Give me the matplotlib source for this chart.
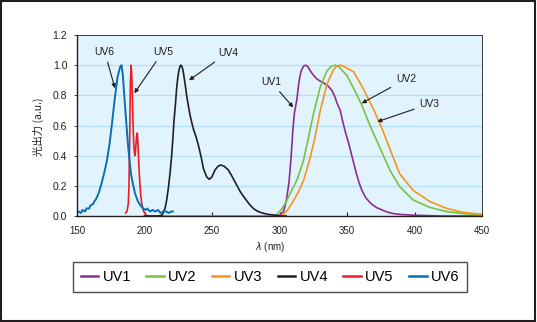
import matplotlib
matplotlib.use("Agg")
import matplotlib.pyplot as plt
from matplotlib.patches import Rectangle

plt.rcParams['font.family'] = ['Liberation Sans Narrow', 'Liberation Sans', 'DejaVu Sans']

# ---- data ----
uv1_x = [295, 300, 303, 305, 307, 308.5, 310, 311, 312, 313, 314, 315, 316, 317, 318, 319.5, 321, 323, 325,
         327.5, 330, 333, 336, 339, 341, 343, 345, 347, 349, 351, 353, 355, 357, 359, 361, 364, 368, 372,
         376, 380, 385, 390, 400, 420, 450]
uv1_y = [0, 0.005, 0.03, 0.1, 0.22, 0.38, 0.58, 0.68, 0.73, 0.78, 0.86, 0.92, 0.96, 0.98, 0.995, 1.0, 0.99,
         0.96, 0.935, 0.91, 0.895, 0.88, 0.862, 0.83, 0.79, 0.74, 0.70, 0.62, 0.55, 0.49, 0.42, 0.35, 0.28,
         0.22, 0.17, 0.12, 0.08, 0.055, 0.04, 0.025, 0.015, 0.01, 0.005, 0.0, 0.0]

uv2_x = [200, 250, 290, 296, 298, 302, 305, 309, 313, 317.5, 321, 325, 330, 335, 338, 341, 344, 347, 350,
         355, 361, 367, 374, 382, 389, 399, 411, 424, 436, 450]
uv2_y = [0, 0, 0, 0.0, 0.01, 0.05, 0.095, 0.17, 0.24, 0.36, 0.50, 0.67, 0.85, 0.96, 0.99, 1.0, 0.99, 0.96,
         0.93, 0.845, 0.735, 0.60, 0.46, 0.30, 0.195, 0.106, 0.058, 0.029, 0.016, 0.008]

uv3_x = [200, 250, 295, 300, 303, 306, 310, 314, 318, 322.5, 326, 330, 335, 340, 342.5, 345, 348, 351, 355,
         362, 369.5, 375, 382, 389, 399, 411.5, 424, 436, 448, 452]
uv3_y = [0, 0, 0, 0.0, 0.01, 0.04, 0.095, 0.16, 0.24, 0.38, 0.51, 0.69, 0.87, 0.97, 0.995, 1.0, 0.99, 0.975,
         0.955, 0.845, 0.71, 0.60, 0.44, 0.28, 0.17, 0.095, 0.05, 0.024, 0.013, 0.01]

uv4_x = [200, 205, 210, 213, 215.2, 216.5, 217.6, 219, 220.1, 221, 221.8, 223, 223.8, 224.7, 225.6, 226.4,
         227, 227.8, 228.7, 230, 231.2, 232.5, 233.7, 235, 236.1, 238, 239.9, 242, 243.6, 246, 248, 250,
         252.2, 254.5, 256.4, 259, 262.1, 265, 268.3, 271, 274.4, 277.5, 280.6, 284, 288, 292, 295.4, 300, 305]
uv4_y = [0.0, 0.0, 0.0, 0.005, 0.05, 0.11, 0.18, 0.29, 0.40, 0.51, 0.625, 0.75, 0.847, 0.92, 0.968, 0.995,
         1.0, 0.99, 0.957, 0.88, 0.80, 0.73, 0.67, 0.62, 0.58, 0.53, 0.47, 0.39, 0.316, 0.26, 0.243, 0.26,
         0.305, 0.33, 0.338, 0.33, 0.305, 0.26, 0.205, 0.16, 0.117, 0.08, 0.05, 0.03, 0.018, 0.01, 0.007, 0.0, 0.0]

uv5_x = [186, 187, 188, 188.5, 189, 189.5, 190, 190.5, 191, 191.5, 192, 192.5, 193, 193.5, 194, 194.7,
         195.3, 196, 196.7, 197.3, 198, 199, 200, 201]
uv5_y = [0.02, 0.03, 0.08, 0.20, 0.50, 0.85, 1.00, 0.95, 0.80, 0.62, 0.48, 0.42, 0.40, 0.45, 0.52, 0.55,
         0.45, 0.30, 0.20, 0.13, 0.08, 0.04, 0.02, 0.01]

uv6_x = [150, 151, 153, 154, 156, 157, 159, 160, 162, 163, 164, 166, 168, 170, 172, 174, 176, 178, 180, 182,
         183, 184, 185, 186, 187, 188, 189, 190, 191, 192, 193, 195, 197, 199, 201, 202, 204, 206, 208, 210,
         212, 214, 216, 218, 220, 221]
uv6_y = [0.02, 0.03, 0.02, 0.04, 0.03, 0.05, 0.05, 0.07, 0.08, 0.10, 0.11, 0.15, 0.21, 0.28, 0.36, 0.47,
         0.62, 0.78, 0.92, 0.99, 1.00, 0.93, 0.80, 0.68, 0.56, 0.45, 0.36, 0.28, 0.23, 0.19, 0.15, 0.10, 0.07,
         0.05, 0.04, 0.05, 0.03, 0.04, 0.03, 0.04, 0.02, 0.03, 0.03, 0.02, 0.03, 0.03]

series = [
    ("UV1", uv1_x, uv1_y, "#8E2C90"),
    ("UV2", uv2_x, uv2_y, "#7AC143"),
    ("UV3", uv3_x, uv3_y, "#F7941D"),
    ("UV4", uv4_x, uv4_y, "#231F20"),
    ("UV5", uv5_x, uv5_y, "#ED1C24"),
    ("UV6", uv6_x, uv6_y, "#0A6EB4"),
]

# annotation text centres and arrow targets (data coords)
ann_labels = ["UV6", "UV5", "UV4", "UV1", "UV2", "UV3"]
ann_text_xy = [(170.5, 1.09), (213.7, 1.09), (261.8, 1.083), (293.7, 0.89), (393.7, 0.908), (411.2, 0.743)]
ann_arrow_xy = [(178.1, 0.847), (192.5, 0.814), (233.0, 0.90), (310.2, 0.72), (360.9, 0.747), (372.4, 0.625)]

x_ticks = [150, 200, 250, 300, 350, 400, 450]
y_ticks = [0.0, 0.2, 0.4, 0.6, 0.8, 1.0, 1.2]

# ---- figure ----
W, H = 537, 322
fig = plt.figure(figsize=(W / 100, H / 100), dpi=100)
fig.patches.append(Rectangle((0.002, 0.003), 0.995, 0.994, transform=fig.transFigure,
                             fill=False, edgecolor="#231F20", linewidth=1.5))

ax = fig.add_axes([77 / W, 1 - 216 / H, (482 - 77) / W, (216 - 35) / H])
ax.set_facecolor("#E1F3FC")
ax.set_xlim(150, 450)
ax.set_ylim(0, 1.2)
for yv in y_ticks[1:-1]:
    ax.axhline(yv, color="#B5DFF4", linewidth=0.9, zorder=0)

order = [1, 2, 0, 3, 4, 5]
handles = {}
for i in order:
    name, xs, ys, col = series[i]
    lw = 1.4 if name == "UV6" else 1.2
    (ln,) = ax.plot(xs, ys, color=col, linewidth=lw, label=name, zorder=2 + i * 0.1)
    handles[name] = ln

for lab, txy, axy in zip(ann_labels, ann_text_xy, ann_arrow_xy):
    ax.annotate(lab, xy=axy, xytext=txy, ha="center", va="center", fontsize=7.5,
                color="#231F20", family=['Liberation Sans', 'DejaVu Sans'],
                arrowprops=dict(arrowstyle="-|>", color="#231F20", lw=0.8,
                                mutation_scale=6, shrinkA=2, shrinkB=0))

ax.set_xticks(x_ticks)
ax.set_xticklabels([str(v) for v in x_ticks], fontsize=7)
ax.set_yticks(y_ticks)
ax.set_yticklabels(["%.1f" % v for v in y_ticks], fontsize=7.5)
ax.tick_params(axis="x", direction="in", length=3, width=0.8, pad=7, colors="#231F20")
ax.tick_params(axis="y", direction="out", length=2, width=0.6, pad=5, colors="#231F20")
for s in ["left", "bottom"]:
    ax.spines[s].set_color("#231F20")
    ax.spines[s].set_linewidth(1.0)
for s in ["top", "right"]:
    ax.spines[s].set_color("#3a3a3a")
    ax.spines[s].set_linewidth(0.7)

fig.text(270 / W, 1 - 247 / H, r"$\lambda$ (nm)", ha="center", va="center", fontsize=7, color="#231F20")
fig.text(38 / W, 1 - 127 / H, "光出力 (a.u.)", ha="center", va="center", rotation=90, fontsize=7.5,
         color="#231F20", family=['Noto Sans CJK JP', 'DejaVu Sans'])

leg = fig.legend([handles[n] for n in ["UV1", "UV2", "UV3", "UV4", "UV5", "UV6"]],
                 ["UV1", "UV2", "UV3", "UV4", "UV5", "UV6"],
                 loc="center", bbox_to_anchor=(270 / W, 1 - 277 / H), ncol=6,
                 handlelength=1.2, handletextpad=0.3, columnspacing=1.05,
                 frameon=True, fancybox=False, borderpad=0.55,
                 prop={'family': ['Liberation Sans', 'DejaVu Sans'], 'size': 10.5})
leg.get_frame().set_edgecolor("#231F20")
leg.get_frame().set_linewidth(1.0)
for lh in leg.get_lines():
    lh.set_linewidth(1.8)

fig.savefig("out.png", dpi=100)
